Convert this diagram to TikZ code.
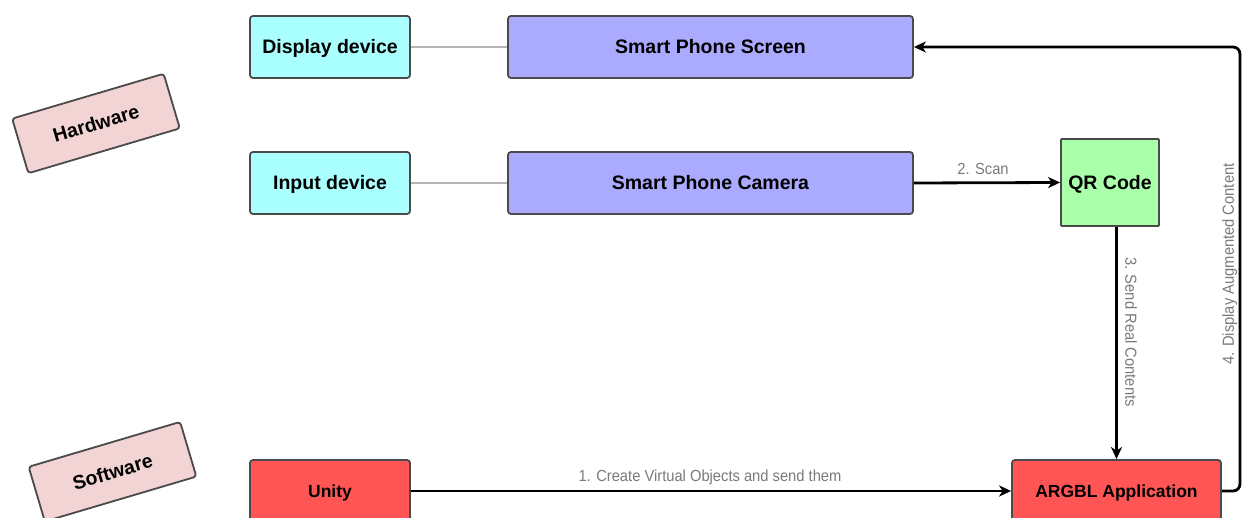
\documentclass[tikz,border=0pt]{standalone}
\usepackage{fontspec}
\setmainfont{Liberation Sans}
\newfontfamily\lblfont[FakeStretch=0.92]{Liberation Sans}
\usetikzlibrary{arrows.meta}
\definecolor{bordc}{HTML}{4A4A4A}
\definecolor{cyanF}{HTML}{AAFFFF}
\definecolor{purpF}{HTML}{AAAAFF}
\definecolor{greenF}{HTML}{AAFFAA}
\definecolor{redF}{HTML}{FF5555}
\definecolor{pinkF}{HTML}{F2D4D4}
\definecolor{lblc}{HTML}{7A7A7A}
\definecolor{linkc}{HTML}{B4B4B4}
\tikzset{
  basebox/.style={draw=bordc, line width=1.8pt, rounded corners=3pt, inner sep=0pt,
    font=\bfseries\fontsize{19.5}{22}\selectfont, text=black, minimum height=62pt,
    text height=14pt, text depth=0pt},
  devbox/.style={basebox, fill=cyanF, minimum width=160pt},
  phonebox/.style={basebox, fill=purpF, minimum width=405pt},
  qrbox/.style={basebox, fill=greenF, minimum width=98pt, minimum height=87pt, rounded corners=1pt},
  swbox/.style={basebox, fill=redF, font=\bfseries\fontsize{17.5}{20}\selectfont, text height=12.5pt},
  catbox/.style={basebox, fill=pinkF, minimum width=158pt, minimum height=57pt, rotate=16.5},
  linkline/.style={draw=linkc, line width=2pt},
  flow/.style={draw=black, line width=2.8pt, -{Stealth[length=12pt,width=11pt,inset=3.5pt]}},
  lbl/.style={font=\lblfont\fontsize{16}{18}\selectfont, text=lblc, inner sep=0pt,
    text height=11.5pt, text depth=0pt}
}
\begin{document}
\begin{tikzpicture}[x=1pt,y=-1pt]
\useasboundingbox (0,0) rectangle (1242,518);
\fill[white] (0,0) rectangle (1242,518);
% category boxes
\node[catbox] (hw) at (96,123.5) {Hardware};
\node[catbox] (sw) at (112.5,471.7) {Software};
% hardware
\node[devbox] (disp) at (330,47) {Display device};
\node[devbox] (inp) at (330,183) {Input device};
\node[phonebox] (screen) at (710.5,47) {Smart Phone Screen};
\node[phonebox] (cam) at (710.5,183) {Smart Phone Camera};
\node[qrbox] (qr) at (1110,182.5) {QR Code};
% software
\node[swbox, minimum width=160pt] (unity) at (330,491) {Unity};
\node[swbox, minimum width=209pt] (argbl) at (1116.5,491) {ARGBL Application};
% links
\draw[linkline] (disp.east) -- (screen.west);
\draw[linkline] (inp.east) -- (cam.west);
% flows
\draw[flow] (unity.east) -- (argbl.west);
\node[lbl] (l1) at (710,476) {1. Create Virtual Objects and send them};
\draw[flow] (cam.east) -- (qr.west);
\node[lbl] (l2) at (983,169) {2. Scan};
\draw[flow] (qr.south -| argbl.north) -- (argbl.north);
\node[lbl, rotate=-90] (l3) at (1131,332) {3. Send Real Contents};
\coordinate (rt) at (1240,47);
\draw[flow, rounded corners=7pt] (argbl.east) -| (rt) -- (screen.east);
\node[lbl, rotate=90] (l4) at (1228,264) {4. Display Augmented Content};
\end{tikzpicture}
\end{document}
